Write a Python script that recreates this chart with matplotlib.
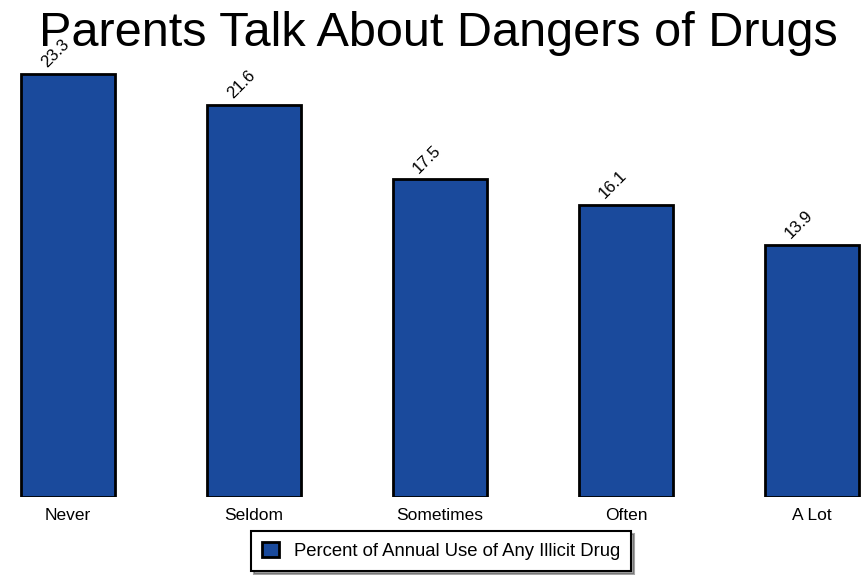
import matplotlib
matplotlib.use("Agg")
import matplotlib.pyplot as plt

categories = ["Never", "Seldom", "Sometimes", "Often", "A Lot"]
values = [23.3, 21.6, 17.5, 16.1, 13.9]
series_name = "Percent of Annual Use of Any Illicit Drug"
title = "Parents Talk About Dangers of Drugs"

plt.rcParams["font.family"] = ["Liberation Sans", "DejaVu Sans"]

fig = plt.figure(figsize=(8.67, 5.75), dpi=100)
# axes spans whole width; bars spaced 186 px, first centre at 68 px
px_unit = 186.0
x_left = -68 / px_unit
x_right = (867 - 68) / px_unit
y_top = 25.0
y_px = 18.15
ax = fig.add_axes([0, (575 - 497) / 575, 1, y_top * y_px / 575])

x = list(range(len(categories)))
bar_color = "#1a4a9c"
bars = ax.bar(x, values, width=94 / px_unit, color=bar_color,
              edgecolor="black", linewidth=2, label=series_name)

for xi, v in zip(x, values):
    ax.text(xi - 0.07, v + 0.2, f"{v}", rotation=45, ha="center", va="bottom",
            fontsize=12)

ax.set_xlim(x_left, x_right)
ax.set_ylim(0, y_top)
ax.set_xticks(x)
ax.set_xticklabels(categories, fontsize=12.5)
ax.tick_params(axis="x", length=0, pad=8)
ax.set_yticks([])
for s in ax.spines.values():
    s.set_visible(False)

fig.text(0.506, 0.942, title, ha="center", va="center", fontsize=35)

leg = fig.legend(handles=[bars], labels=[series_name], loc="center",
                 bbox_to_anchor=(441 / 867, 1 - 551 / 575), fontsize=13.3,
                 frameon=True, fancybox=False, shadow=True,
                 handlelength=0.9, handleheight=0.9, borderpad=0.6)
leg.get_frame().set_edgecolor("black")
leg.get_frame().set_linewidth(1.5)

fig.savefig("out.png", dpi=100)
